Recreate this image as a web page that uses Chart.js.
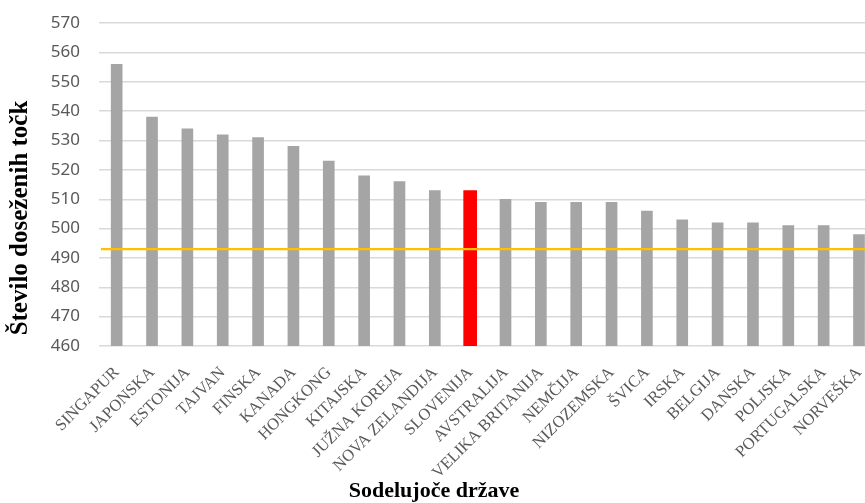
<!DOCTYPE html>
<html>
<head>
<meta charset="utf-8">
<script src="https://cdn.jsdelivr.net/npm/chart.js@4"></script>
<style>
  html, body { margin: 0; padding: 0; background: #fff; overflow: hidden; }
  #wrap { width: 882px; height: 509px; margin-top: -6px; }
</style>
</head>
<body>
<div id="wrap"><canvas id="scoreChart"></canvas></div>
<script>
// PISA rezultati po državah
const countries = ["SINGAPUR", "JAPONSKA", "ESTONIJA", "TAJVAN", "FINSKA", "KANADA",
    "HONGKONG", "KITAJSKA", "JUŽNA KOREJA", "NOVA ZELANDIJA", "SLOVENIJA", "AVSTRALIJA",
    "VELIKA BRITANIJA", "NEMČIJA", "NIZOZEMSKA", "ŠVICA", "IRSKA", "BELGIJA", "DANSKA",
    "POLJSKA", "PORTUGALSKA", "NORVEŠKA"];
const scores = [556, 538, 534, 532, 531, 528, 523, 518, 516, 513, 513, 510,
    509, 509, 509, 506, 503, 502, 502, 501, 501, 498];
const highlight = "SLOVENIJA";
const oecdAverage = 493;
const yTicks = { min: 460, max: 570, step: 10 };

const otherScores = scores.map((v, i) => countries[i] === highlight ? null : v);
const highlightScores = scores.map((v, i) => countries[i] === highlight ? v : null);

// horizontal average line + axis titles
const extras = {
    id: "extras",
    afterDatasetsDraw(chart) {
        const { ctx, chartArea, scales } = chart;
        const y = scales.y.getPixelForValue(oecdAverage);
        ctx.save();
        ctx.strokeStyle = "#ffc000";
        ctx.lineWidth = 2.2;
        ctx.beginPath();
        ctx.moveTo(chartArea.left + 2, y);
        ctx.lineTo(chartArea.right, y);
        ctx.stroke();

        ctx.fillStyle = "#000";
        ctx.textAlign = "center";
        ctx.textBaseline = "middle";
        ctx.font = "bold 22px 'Liberation Serif'";
        ctx.fillText("Sodelujoče države", 434, 497);

        ctx.translate(21, 224);
        ctx.rotate(-Math.PI / 2);
        ctx.font = "bold 25px 'Liberation Serif'";
        ctx.fillText("Število doseženih točk", 0, 0);
        ctx.restore();
    }
};

new Chart(document.getElementById("scoreChart"), {
    type: "bar",
    data: {
        labels: countries,
        datasets: [
            {
                data: otherScores,
                backgroundColor: "#a5a5a5",
                barThickness: 11,
                grouped: false
            },
            {
                data: highlightScores,
                backgroundColor: "#ff0000",
                barThickness: 13,
                grouped: false
            }
        ]
    },
    options: {
        responsive: true,
        maintainAspectRatio: false,
        animation: false,
        layout: { padding: { top: 16, right: 0, bottom: 0, left: 0 } },
        plugins: {
            legend: { display: false },
            tooltip: { enabled: false }
        },
        scales: {
            x: {
                grid: { display: false },
                border: { display: false },
                ticks: {
                    minRotation: 45,
                    maxRotation: 45,
                    autoSkip: false,
                    padding: 9,
                    color: "#595959",
                    font: { family: "'Liberation Serif'", size: 16.5 }
                },
                afterFit(scale) { scale.height = 157; }
            },
            y: {
                min: yTicks.min,
                max: yTicks.max,
                border: { display: false },
                grid: { color: "#d9d9d9", lineWidth: 1.5, drawTicks: false },
                ticks: {
                    stepSize: yTicks.step,
                    padding: 19,
                    color: "#595959",
                    font: { family: "'Noto Sans'", size: 17 }
                },
                afterFit(scale) { scale.width = 99; }
            }
        }
    },
    plugins: [extras]
});
</script>
</body>
</html>
